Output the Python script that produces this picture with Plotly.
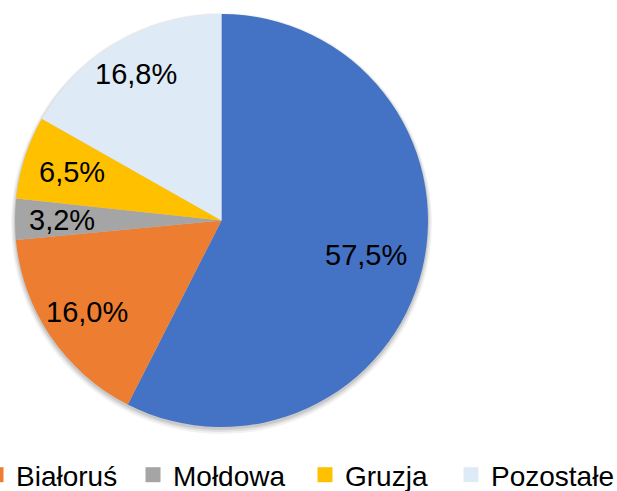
import math
import plotly.graph_objects as go

# ---- data ----
countries = ["Ukraina", "Białoruś", "Mołdowa", "Gruzja", "Pozostałe"]
shares = [57.5, 16.0, 3.2, 6.5, 16.8]

# ---- style ----
colors = ["#4472C4", "#ED7D31", "#A5A5A5", "#FFC000", "#DEEAF6"]
label_radius = [0.72, 0.79, 0.77, 0.76, 0.82]  # label distance as fraction of radius
# left edge (px) of each visible legend entry; Ukraina's lies beyond the left edge in the source
legend_left = [-24, 133, 305, 451]
FONT = "Arial, Liberation Sans, sans-serif"
W, H = 617, 491
MB = 60                      # bottom margin holding the legend
PW, PH = W, H - MB           # plot area size
LEGEND_MID = 475             # legend row centre, px from top
# pie box in pixels from top-left: x 15..428, y 14..427
dom_x = [15 / PW, 428 / PW]
dom_y = [1 - 427 / PH, 1 - 14 / PH]

fig = go.Figure()

# soft shadow below the pie
cx = (dom_x[0] + dom_x[1]) / 2 * PW
cy = (1 - (dom_y[0] + dom_y[1]) / 2) * PH
R = min((dom_x[1] - dom_x[0]) * PW, (dom_y[1] - dom_y[0]) * PH) / 2
for grow, shift, op in [(4, 3, 0.05), (2.5, 2.5, 0.07), (1, 2, 0.10)]:
    fig.add_shape(
        type="circle", xref="paper", yref="paper", layer="below",
        x0=(cx - R - grow) / PW, x1=(cx + R + grow) / PW,
        y0=1 - (cy + R + grow + shift) / PH, y1=1 - (cy - R - grow + shift) / PH,
        fillcolor=f"rgba(0,0,0,{op})", line=dict(width=0),
    )

fig.add_trace(
    go.Pie(
        labels=countries,
        values=shares,
        sort=False,
        direction="clockwise",
        rotation=0,
        marker=dict(colors=colors, line=dict(width=0)),
        textinfo="none",
        hoverinfo="label+percent",
        domain=dict(x=dom_x, y=dom_y),
        showlegend=False,
    )
)

# legend entries, each in its own legend box so the spacing follows the source
legend_layout = {}
for i, (name, col, lx) in enumerate(zip(countries[1:], colors[1:], legend_left)):
    key = "legend" if i == 0 else f"legend{i + 1}"
    fig.add_trace(
        go.Scatter(
            x=[None], y=[None], mode="markers", name=name, legend=key,
            marker=dict(symbol="square", size=15, color=col, line=dict(width=0)),
            hoverinfo="skip",
        )
    )
    legend_layout[key] = dict(
        orientation="h",
        x=lx / PW, xanchor="left",
        y=(PH - LEGEND_MID) / PH, yanchor="middle",
        font=dict(family=FONT, size=28, color="#000000"),
        bgcolor="rgba(0,0,0,0)",
        borderwidth=0,
    )

# labels placed along each slice's mid angle
total = sum(shares)
cum = 0.0
for v, f in zip(shares, label_radius):
    mid = (cum + v / 2) / total * 2 * math.pi
    cum += v
    px = cx + R * f * math.sin(mid)
    py = cy - R * f * math.cos(mid)
    fig.add_annotation(
        x=px / PW, y=1 - py / PH, xref="paper", yref="paper",
        text=f"{v:.1f}%".replace(".", ","), showarrow=False,
        font=dict(family=FONT, size=29, color="#000000"),
        xanchor="center", yanchor="middle",
    )

fig.update_layout(
    width=W, height=H,
    margin=dict(l=0, r=0, t=0, b=MB, autoexpand=False),
    paper_bgcolor="white",
    plot_bgcolor="white",
    xaxis=dict(visible=False),
    yaxis=dict(visible=False),
    font=dict(family=FONT, size=28, color="#000000"),
    **legend_layout,
)

fig.write_html("out.html")
